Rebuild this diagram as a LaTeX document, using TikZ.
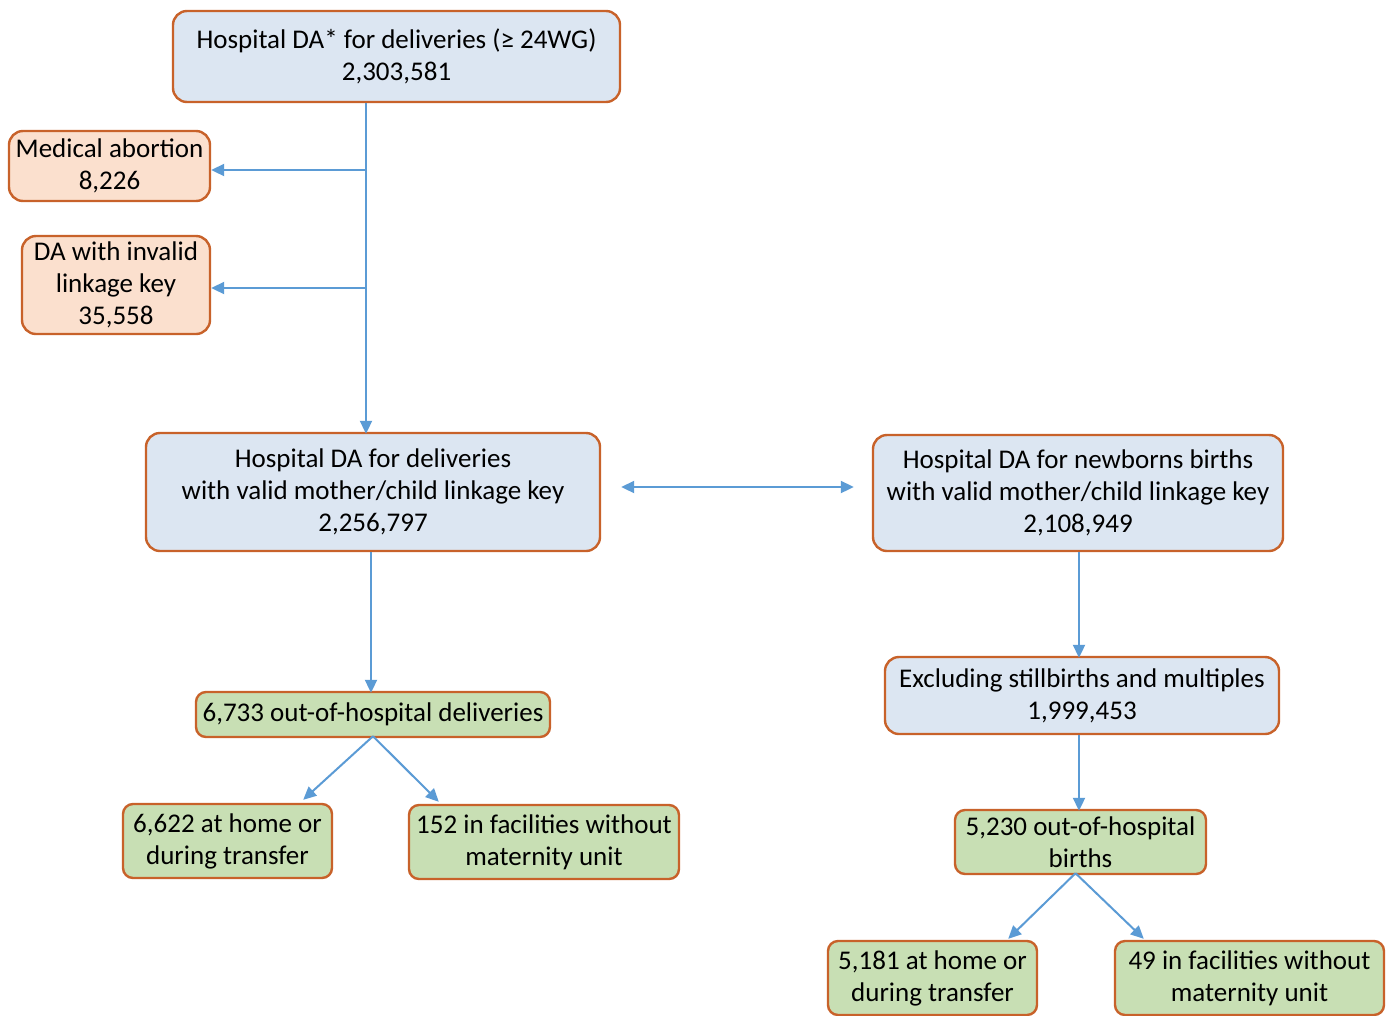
\documentclass[tikz,border=0pt]{standalone}
\usepackage{fontspec}
\setmainfont{Carlito}
\usetikzlibrary{arrows.meta,calc}
\definecolor{bfill}{HTML}{DCE6F2}
\definecolor{pfill}{HTML}{FBE0CE}
\definecolor{gfill}{HTML}{C8DFB4}
\definecolor{bord}{HTML}{C8622A}
\definecolor{arr}{HTML}{5B9BD5}
\begin{document}
\begin{tikzpicture}[x=1pt,y=-1pt,
  box/.style={draw=bord, line width=2.4pt, rounded corners=14pt, align=center, inner sep=0pt,
    font=\fontsize{27}{32}\selectfont},
  bluebox/.style={box, fill=bfill},
  peachbox/.style={box, fill=pfill},
  greenbox/.style={box, fill=gfill, rounded corners=10pt},
  conn/.style={draw=arr, line width=2pt, -{Triangle[length=13pt,width=12pt]}},
  dconn/.style={draw=arr, line width=2pt, {Triangle[length=13pt,width=12pt]}-{Triangle[length=13pt,width=12pt]}}]
\clip (0,0) rectangle (1388,1015);
\fill[white] (0,0) rectangle (1388,1015);

\node[bluebox, minimum width=447pt, minimum height=91pt] (t) at (396.5,56.5)
  {Hospital DA* for deliveries (≥ 24WG)\\2,303,581};
\node[peachbox, minimum width=201pt, minimum height=70pt] (ma) at (109.5,166)
  {Medical abortion\\8,226};
\node[peachbox, minimum width=188pt, minimum height=98pt] (inv) at (116,285)
  {DA with invalid\\linkage key\\35,558};
\node[bluebox, minimum width=454pt, minimum height=118pt] (d) at (373,492)
  {Hospital DA for deliveries\\with valid mother/child linkage key\\2,256,797};
\node[bluebox, minimum width=410pt, minimum height=116pt] (nb) at (1078,493)
  {Hospital DA for newborns births\\with valid mother/child linkage key\\2,108,949};
\node[bluebox, minimum width=394pt, minimum height=77pt] (ex) at (1082,695.5)
  {Excluding stillbirths and multiples\\1,999,453};
\node[greenbox, minimum width=354pt, minimum height=45pt] (oh) at (373,714.5)
  {6,733 out-of-hospital deliveries};
\node[greenbox, minimum width=209pt, minimum height=74pt] (h1) at (227.5,841)
  {6,622 at home or\\during transfer};
\node[greenbox, minimum width=270pt, minimum height=74pt] (f1) at (544,842)
  {152 in facilities without\\maternity unit};
\node[greenbox, minimum width=251pt, minimum height=64pt] (ob) at (1080.5,842)
  {5,230 out-of-hospital\\births};
\node[greenbox, minimum width=209pt, minimum height=74pt] (h2) at (932.5,978)
  {5,181 at home or\\during transfer};
\node[greenbox, minimum width=269pt, minimum height=74pt] (f2) at (1249.5,978)
  {49 in facilities without\\maternity unit};

\coordinate (j1) at (366,170);
\coordinate (j2) at (366,288);
\draw[conn] (t.south -| j1) -- ([yshift=-2pt]d.north -| j1);
\draw[conn] (j1) -- (ma.east |- j1);
\draw[conn] (j2) -- (inv.east |- j2);
\draw[dconn, shorten <=20pt, shorten >=18pt] (d.east |- 0,487) -- (nb.west |- 0,487);
\draw[conn] ([xshift=-2pt]oh.north |- d.south) -- ([xshift=-2pt,yshift=-2pt]oh.north);
\draw[conn] (nb.south -| 1079,0) -- ([yshift=-2pt]ex.north -| 1079,0);
\draw[conn] (ex.south -| 1079,0) -- ([yshift=-2pt]ob.north -| 1079,0);
\draw[conn] ([yshift=2pt]oh.south) -- ($(h1.north east)+(-30,-3)$);
\draw[conn] ([yshift=2pt]oh.south) -- ($(f1.north west)+(31,-2)$);
\draw[conn] ([xshift=-5pt,yshift=2pt]ob.south) -- ($(h2.north east)+(-30,-1)$);
\draw[conn] ([xshift=-5pt,yshift=2pt]ob.south) -- ($(f2.north west)+(30,-1)$);
\end{tikzpicture}
\end{document}
